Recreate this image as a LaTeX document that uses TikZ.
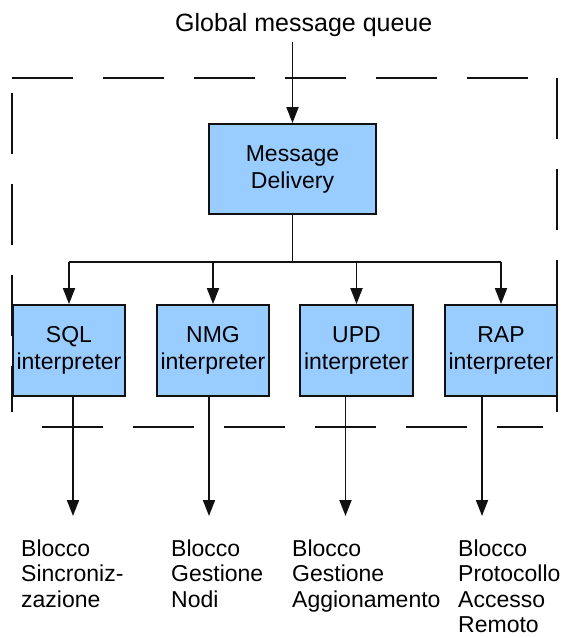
\documentclass[tikz,border=0pt]{standalone}
\usepackage{fontspec}
\setmainfont{Liberation Sans}
\usetikzlibrary{arrows.meta}
\definecolor{boxfill}{HTML}{99CCFF}
\definecolor{ink}{HTML}{111111}
\begin{document}
\begin{tikzpicture}[x=1pt,y=-1pt,
  wire/.style={draw=ink,line width=1.8pt},
  block/.style={draw=ink,fill=boxfill,line width=1.8pt,align=center,inner sep=0pt,
    font=\fontsize{23}{27}\selectfont},
  lbl/.style={anchor=north west,align=left,inner sep=0pt,
    font=\fontsize{23}{25.5}\selectfont},
  arr/.style={wire,-{Triangle[length=16pt,width=12pt]}},
  frame/.style={draw=ink,line width=1.8pt,dash pattern=on 61pt off 30pt}]
\useasboundingbox (0,0) rectangle (565,638);

% dashed enclosure around the delivery stage
\draw[frame] (12,78) -- (557,78);
\draw[frame] (557,78) -- (557,412);
\draw[frame,dash phase=76pt] (12,78) -- (12,412);
\draw[frame,dash phase=61pt] (12,427) -- (543,427);

% title
\node[anchor=base west,inner sep=0pt,font=\fontsize{25}{30}\selectfont] (title) at (175,31) {Global message queue};
\coordinate (qin) at (292.5,42);

% blocks
\node[block,minimum width=167pt,minimum height=90pt] (md) at (292.5,169) {Message\\Delivery};
\node[block,minimum width=112pt,minimum height=91pt] (sql) at (69,350.5) {SQL\\interpreter};
\node[block,minimum width=112pt,minimum height=91pt] (nmg) at (213,350.5) {NMG\\interpreter};
\node[block,minimum width=113pt,minimum height=91pt] (upd) at (356.5,350.5) {UPD\\interpreter};
\node[block,minimum width=112pt,minimum height=91pt] (rap) at (501,350.5) {RAP\\interpreter};

% distribution bus
\coordinate (bus) at (292.5,262);
\draw[arr] (qin) -- (md.north);
\draw[wire] (md.south) -- (bus);
\draw[wire] (bus -| sql.north) -- (bus -| rap.north);
\foreach \n in {sql,nmg,upd,rap}
  \draw[arr] (bus -| \n.north) -- (\n.north);

% outputs
\coordinate (o1) at (73,516);
\coordinate (o2) at (209,516);
\coordinate (o3) at (345.5,516);
\coordinate (o4) at (482,516);
\draw[arr] (sql.south -| o1) -- (o1);
\draw[arr] (nmg.south -| o2) -- (o2);
\draw[arr] (upd.south -| o3) -- (o3);
\draw[arr] (rap.south -| o4) -- (o4);

\node[lbl] (l1) at (21,539.5) {Blocco\\Sincroniz-\\zazione};
\node[lbl] (l2) at (171,539.5) {Blocco\\Gestione\\Nodi};
\node[lbl] (l3) at (292,539.5) {Blocco\\Gestione\\Aggionamento};
\node[lbl] (l4) at (458,539.5) {Blocco\\Protocollo\\Accesso\\Remoto};
\end{tikzpicture}
\end{document}
